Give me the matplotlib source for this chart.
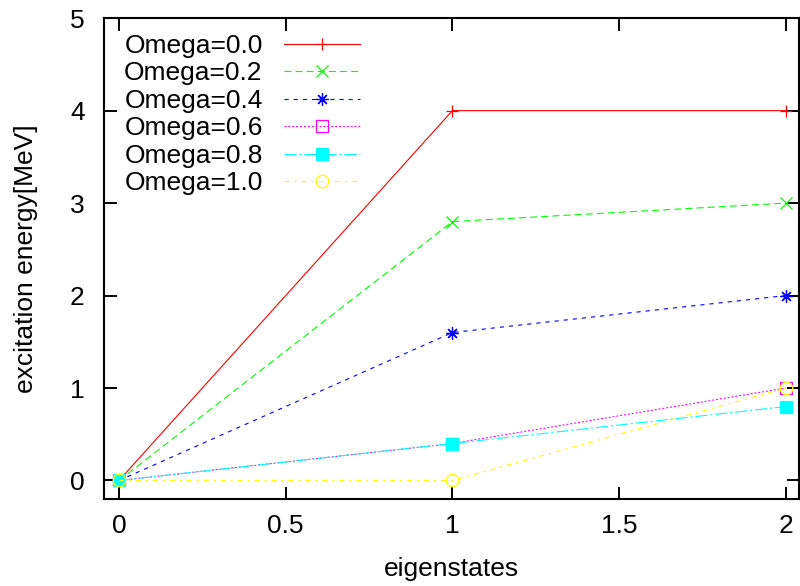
import matplotlib
matplotlib.use("Agg")
import matplotlib.pyplot as plt

plt.rcParams["font.family"] = ["Liberation Sans", "DejaVu Sans"]
plt.rcParams["lines.scale_dashes"] = False

states = [0, 1, 2]
omega_labels = ["Omega=0.0", "Omega=0.2", "Omega=0.4", "Omega=0.6", "Omega=0.8", "Omega=1.0"]
e_w00 = [0.0, 4.0, 4.0]
e_w02 = [0.0, 2.8, 3.0]
e_w04 = [0.0, 1.6, 2.0]
e_w06 = [0.0, 0.4, 1.0]
e_w08 = [0.0, 0.4, 0.8]
e_w10 = [0.0, 0.0, 1.0]

series = [e_w00, e_w02, e_w04, e_w06, e_w08, e_w10]
colors = ["#ff0000", "#00ff00", "#0000ff", "#ff00ff", "#00ffff", "#ffff00"]
styles = ["-", (0, (5, 3)), (0, (3, 3.6)), (0, (1.4, 1.4)),
          (0, (8.6, 2.2, 1.4, 2.2)), (0, (3.6, 3.6, 1.4, 3.6))]
markers = ["+", "x", (8, 2, 0), "s", "s", "o"]
msizes = [9, 9, 9, 8.5, 8.5, 9]
filled = [True, True, True, False, True, False]

fig = plt.figure(figsize=(8, 5.86), dpi=100)
ax = fig.add_axes([0.13, 0.1485, 0.869, 0.8205])

for vals, lab, c, ls, m, ms, f in zip(series, omega_labels, colors, styles, markers, msizes, filled):
    ax.plot(states, vals, color=c, linestyle=ls, linewidth=0.8, marker=m,
            markersize=ms, markerfacecolor=c if f else "none", markeredgecolor=c,
            markeredgewidth=0.9, label=lab)

ax.set_xlim(-0.045, 2.04)
ax.set_ylim(-0.2, 5)
ax.set_xticks([0, 0.5, 1, 1.5, 2])
ax.set_xticklabels(["0", "0.5", "1", "1.5", "2"])
ax.set_yticks([0, 1, 2, 3, 4, 5])
ax.tick_params(direction="in", top=True, right=True, length=9, width=1.4,
               labelsize=19)
ax.tick_params(axis="x", pad=11)
ax.tick_params(axis="y", pad=14)
for sp in ax.spines.values():
    sp.set_linewidth(1.5)

ax.set_xlabel("eigenstates", fontsize=19)
ax.set_ylabel("excitation energy[MeV]", fontsize=19)
ax.xaxis.set_label_coords(0.5, -0.12)
ax.yaxis.set_label_coords(-0.095, 0.5)

ax.legend(loc="upper left", bbox_to_anchor=(0.029, 0.967), frameon=False,
          markerfirst=False, fontsize=19, handlelength=2.9, handletextpad=0.8,
          labelspacing=0.13, borderaxespad=0, borderpad=0)

fig.savefig("out.png", dpi=100)
